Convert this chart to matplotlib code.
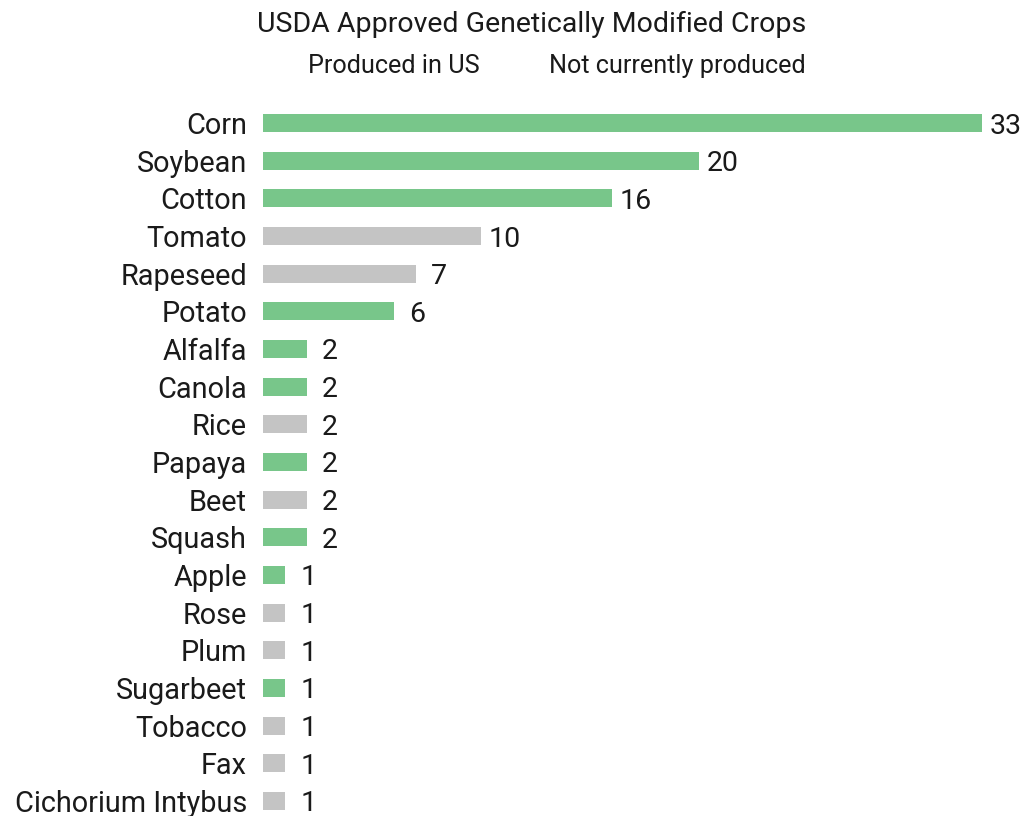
import matplotlib

matplotlib.use("Agg")
import matplotlib.pyplot as plt  # noqa: E402

crops = [
    "Corn", "Soybean", "Cotton", "Tomato", "Rapeseed", "Potato", "Alfalfa",
    "Canola", "Rice", "Papaya", "Beet", "Squash", "Apple", "Rose", "Plum",
    "Sugarbeet", "Tobacco", "Fax", "Cichorium Intybus",
]
approvals = [33, 20, 16, 10, 7, 6, 2, 2, 2, 2, 2, 2, 1, 1, 1, 1, 1, 1, 1]
produced_in_us = [
    True, True, True, False, False, True, True, True, False, True, False,
    True, True, False, False, True, False, False, False,
]

GREEN = "#78c68a"
GREY = "#c4c4c4"
INK = "#1a1a1a"
FONT = "Roboto"

fig = plt.figure(figsize=(10.23, 8.16), dpi=100)
ax = fig.add_axes([263 / 1023, 0.0, (982 - 263) / 1023, 1 - 104.2 / 816])

colors = [GREEN if p else GREY for p in produced_in_us]
ypos = range(len(crops))
ax.barh(ypos, approvals, height=0.48, color=colors)

# count labels sit just past the end of each bar
for y, v in zip(ypos, approvals):
    ax.annotate(str(v), (v, y), xytext=(17, 0), textcoords="offset points",
                ha="center", va="center_baseline", fontsize=20.5,
                family=FONT, color=INK)

ax.set_xlim(0, 33)
ax.set_ylim(18.4, -0.5)
ax.set_yticks(list(ypos))
ax.set_yticklabels(crops, fontsize=20.8, family=FONT, color=INK)
ax.tick_params(axis="y", length=0, pad=11.5)
ax.set_xticks([])
for spine in ax.spines.values():
    spine.set_visible(False)

fig.text(532 / 1023, 1 - 24 / 816, "USDA Approved Genetically Modified Crops",
         ha="center", va="center", fontsize=20.5, family=FONT, color=INK)
fig.text(394 / 1023, 1 - 66 / 816, "Produced in US", ha="center", va="center",
         fontsize=18.2, family=FONT, color=INK)
fig.text(677 / 1023, 1 - 66 / 816, "Not currently produced", ha="center",
         va="center", fontsize=18.2, family=FONT, color=INK)

fig.savefig("out.png", dpi=100, facecolor="white")
